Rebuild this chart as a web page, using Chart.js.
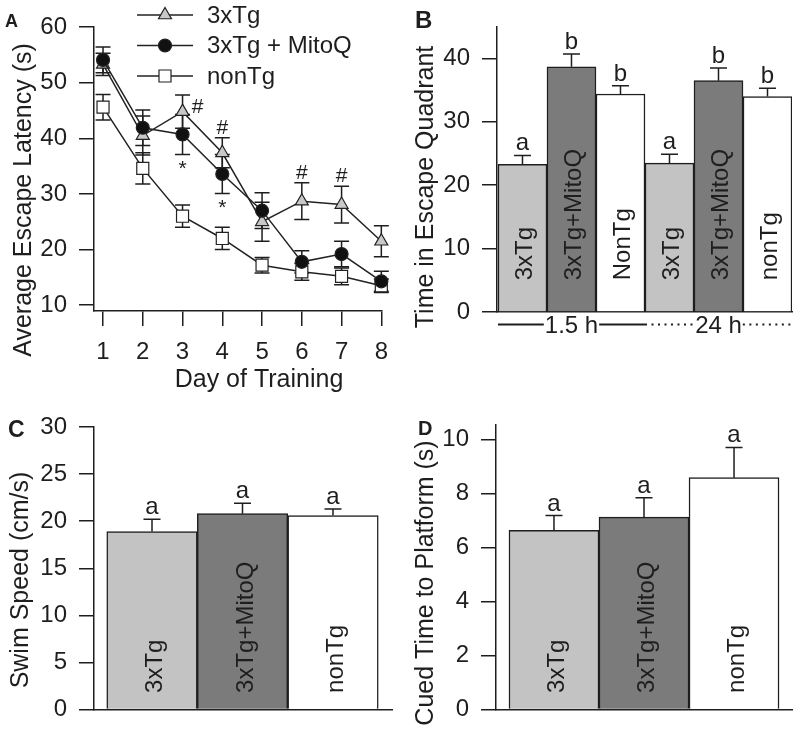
<!DOCTYPE html>
<html><head><meta charset="utf-8">
<script src="https://cdn.jsdelivr.net/npm/chart.js@4"></script>
<style>
body{margin:0;background:#fff;width:800px;height:736px;position:relative;overflow:hidden}
canvas{position:absolute}
</style></head><body>
<canvas id="cA" width="400" height="395" style="left:0;top:0"></canvas>
<canvas id="cB" width="400" height="395" style="left:400px;top:0"></canvas>
<canvas id="cC" width="400" height="341" style="left:0;top:395px"></canvas>
<canvas id="cD" width="400" height="341" style="left:400px;top:395px"></canvas>
<script>
// ---------------- data ----------------
const days = [1, 2, 3, 4, 5, 6, 7, 8];
const latency3xTg  = [53.3, 40.5, 44.8, 37.4, 25.0, 28.7, 28.1, 21.5];
const err3xTg      = [2.0, 3.5, 3.0, 2.7, 3.5, 3.3, 3.3, 2.8];
const latencyMitoQ = [54.1, 41.9, 40.7, 33.6, 27.0, 17.8, 19.2, 14.3];
const errMitoQ     = [2.3, 3.2, 3.6, 3.5, 3.2, 2.0, 2.3, 1.8];
const latencyNonTg = [45.6, 34.6, 26.0, 22.0, 17.2, 16.0, 15.2, 13.5];
const errNonTg     = [2.3, 2.8, 2.0, 2.0, 1.4, 1.5, 1.5, 1.2];
const hashDays = [3, 4, 6, 7];
const starDays = [3, 4];
const latencyTicks = [10, 20, 30, 40, 50, 60];

const probeLabels  = ['3xTg', '3xTg+MitoQ', 'NonTg', '3xTg', '3xTg+MitoQ', 'nonTg'];
const probeValues  = [23.3, 38.7, 34.4, 23.5, 36.5, 34.0];
const probeErrors  = [1.4, 2.0, 1.3, 1.4, 2.0, 1.3];
const probeLetters = ['a', 'b', 'b', 'a', 'b', 'b'];
const probeGroups  = ['1.5 h', '24 h'];
const probeTicks   = [0, 10, 20, 30, 40];

const groupLabels = ['3xTg', '3xTg+MitoQ', 'nonTg'];
const swimSpeed   = [18.9, 20.8, 20.6];
const swimErr     = [1.3, 1.1, 0.7];
const swimLetters = ['a', 'a', 'a'];
const swimTicks   = [0, 5, 10, 15, 20, 25, 30];

const cuedTime    = [6.63, 7.12, 8.58];
const cuedErr     = [0.55, 0.72, 1.12];
const cuedLetters = ['a', 'a', 'a'];
const cuedTicks   = [0, 2, 4, 6, 8, 10];

// ---------------- styles ----------------
const FONT = "'Liberation Sans', Arial, Helvetica, sans-serif";
const INK = '#1e1e1e';
const BAR_COLORS = ['#c3c3c3', '#7b7b7b', '#ffffff'];
Chart.defaults.font.family = FONT;
Chart.defaults.color = INK;

function yAxis(ticks, min, max, width) {
  return {
    type: 'linear', position: 'left', min: min, max: max,
    afterBuildTicks: s => { s.ticks = ticks.map(v => ({ value: v })); },
    afterFit: s => { s.width = width; },
    grid: { drawOnChartArea: false, drawTicks: true, tickLength: 15, color: INK, lineWidth: 1.5 },
    border: { display: true, color: INK, width: 1.5 },
    ticks: { font: { size: 24 }, color: INK, padding: 12, autoSkip: false }
  };
}
function xBarAxis(n, min, max, height) {
  return {
    type: 'linear', position: 'bottom', min: min, max: max, offset: false,
    afterBuildTicks: s => { s.ticks = Array.from({ length: n }, (_, i) => ({ value: i })); },
    afterFit: s => { s.height = height; },
    grid: { display: false, offset: false },
    border: { display: true, color: INK, width: 1.5 },
    ticks: { display: false }
  };
}

function textPlugin(items) {
  return {
    id: 'texts',
    afterDraw(chart) {
      const ctx = chart.ctx;
      items.forEach(t => {
        ctx.save();
        ctx.fillStyle = INK;
        ctx.font = (t.bold ? 'bold ' : '') + t.size + 'px ' + FONT;
        ctx.textAlign = t.align || 'center';
        ctx.textBaseline = 'alphabetic';
        ctx.translate(t.x, t.y);
        if (t.rot) ctx.rotate(t.rot);
        ctx.fillText(t.text, 0, 0);
        ctx.restore();
      });
    }
  };
}

function barPlugin(cfg) {
  return {
    id: 'barAnnot',
    afterDatasetsDraw(chart) {
      const ctx = chart.ctx, ys = chart.scales.y;
      const meta = chart.getDatasetMeta(0);
      ctx.save();
      meta.data.forEach((bar, i) => {
        const top = ys.getPixelForValue(cfg.values[i] + cfg.errors[i]);
        ctx.strokeStyle = INK; ctx.lineWidth = 1.5;
        ctx.beginPath();
        ctx.moveTo(bar.x, bar.y); ctx.lineTo(bar.x, top);
        ctx.moveTo(bar.x - cfg.cap, top); ctx.lineTo(bar.x + cfg.cap, top);
        ctx.stroke();
        ctx.fillStyle = INK;
        ctx.font = '24px ' + FONT;
        ctx.textAlign = 'center'; ctx.textBaseline = 'alphabetic';
        ctx.fillText(cfg.letters[i], bar.x, top - 5);
        ctx.save();
        ctx.translate(bar.x + 10, ys.bottom - cfg.labelInset);
        ctx.rotate(-Math.PI / 2);
        ctx.textAlign = 'left';
        ctx.fillText(cfg.labels[i], 0, 0);
        ctx.restore();
      });
      ctx.restore();
    }
  };
}

function groupPlugin(groups, styles) {
  return {
    id: 'groups',
    afterDraw(chart) {
      const ctx = chart.ctx;
      const meta = chart.getDatasetMeta(0);
      const per = meta.data.length / groups.length;
      const y = chart.chartArea.bottom + 12.5;
      ctx.save();
      ctx.font = '24px ' + FONT;
      ctx.fillStyle = INK; ctx.strokeStyle = INK; ctx.lineWidth = 2;
      groups.forEach((g, k) => {
        const b0 = meta.data[k * per], b1 = meta.data[k * per + per - 1];
        const left = b0.x - b0.width / 2, right = b1.x + b1.width / 2;
        const cx = (left + right) / 2;
        const w = ctx.measureText(g).width;
        ctx.setLineDash(styles[k] === 'dotted' ? [2, 4.5] : []);
        ctx.beginPath();
        ctx.moveTo(left, y); ctx.lineTo(cx - w / 2 - 1, y);
        ctx.moveTo(cx + w / 2 + 1, y); ctx.lineTo(right, y);
        ctx.stroke();
        ctx.textAlign = 'center'; ctx.textBaseline = 'middle';
        ctx.fillText(g, cx, y + 2);
      });
      ctx.restore();
    }
  };
}

function barChart(id, W, H, area, values, errors, letters, labels, ticks, yMax, xMin, xMax, extraPlugins, labelInset) {
  const n = values.length;
  return new Chart(document.getElementById(id), {
    type: 'bar',
    data: {
      datasets: [{
        data: values.map((v, i) => ({ x: i, y: v })),
        backgroundColor: values.map((v, i) => BAR_COLORS[i % 3]),
        borderColor: INK, borderWidth: 1.5, borderSkipped: 'bottom',
        barPercentage: 1, categoryPercentage: 1
      }]
    },
    options: {
      responsive: false, animation: false, devicePixelRatio: 1,
      layout: { padding: { left: 0, top: area.top, right: W - area.right, bottom: 0 } },
      plugins: { legend: { display: false }, tooltip: { enabled: false } },
      scales: {
        x: xBarAxis(n, xMin, xMax, H - area.bottom),
        y: yAxis(ticks, 0, yMax, area.left)
      }
    },
    plugins: [barPlugin({ values, errors, letters, labels, cap: 8.5, labelInset })].concat(extraPlugins)
  });
}

// ---------------- Panel A ----------------
const seriesA = [
  { label: '3xTg', values: latency3xTg, errors: err3xTg },
  { label: '3xTg + MitoQ', values: latencyMitoQ, errors: errMitoQ },
  { label: 'nonTg', values: latencyNonTg, errors: errNonTg }
];
const markerStyles = [
  { pointStyle: 'triangle', pointRadius: 7.5, pointBackgroundColor: '#c8c8c8', order: 1 },
  { pointStyle: 'circle', pointRadius: 6.5, pointBackgroundColor: '#111111', order: 0 },
  { pointStyle: 'rect', pointRadius: 8.5, pointBackgroundColor: '#ffffff', order: 2 }
];

const errPluginA = {
  id: 'errA',
  beforeDatasetsDraw(chart) {
    const ctx = chart.ctx, xs = chart.scales.x, ys = chart.scales.y;
    ctx.save();
    ctx.strokeStyle = INK; ctx.lineWidth = 1.5;
    seriesA.forEach(s => days.forEach((d, i) => {
      const x = xs.getPixelForValue(d);
      const y1 = ys.getPixelForValue(s.values[i] + s.errors[i]);
      const y2 = ys.getPixelForValue(s.values[i] - s.errors[i]);
      ctx.beginPath();
      ctx.moveTo(x, y1); ctx.lineTo(x, y2);
      ctx.moveTo(x - 7.5, y1); ctx.lineTo(x + 7.5, y1);
      ctx.moveTo(x - 7.5, y2); ctx.lineTo(x + 7.5, y2);
      ctx.stroke();
    }));
    ctx.restore();
  }
};
const hashRight = [3];
const sigPluginA = {
  id: 'sigA',
  afterDatasetsDraw(chart) {
    const ctx = chart.ctx, xs = chart.scales.x, ys = chart.scales.y;
    ctx.save();
    ctx.fillStyle = INK;
    ctx.font = '21px ' + FONT;
    ctx.textAlign = 'center'; ctx.textBaseline = 'alphabetic';
    hashDays.forEach(d => {
      const i = days.indexOf(d);
      const x = xs.getPixelForValue(d);
      if (hashRight.includes(d)) {
        ctx.fillText('#', x + 15, ys.getPixelForValue(latency3xTg[i]) + 1);
      } else {
        ctx.fillText('#', x, ys.getPixelForValue(latency3xTg[i] + err3xTg[i]) - 4);
      }
    });
    starDays.forEach(d => {
      const i = days.indexOf(d);
      ctx.fillText('*', xs.getPixelForValue(d), ys.getPixelForValue(latencyMitoQ[i] - errMitoQ[i]) + 21);
    });
    ctx.restore();
  }
};
const legendPluginA = {
  id: 'legA',
  afterDraw(chart) {
    const ctx = chart.ctx;
    const rows = [15, 45.5, 76];
    ctx.save();
    chart.data.datasets.forEach((ds, k) => {
      const y = rows[k];
      ctx.strokeStyle = '#222'; ctx.lineWidth = 1.5;
      ctx.beginPath(); ctx.moveTo(137, y); ctx.lineTo(193, y); ctx.stroke();
      ctx.fillStyle = ds.pointBackgroundColor; ctx.strokeStyle = '#222'; ctx.lineWidth = 1.2;
      Chart.helpers.drawPoint(ctx, { pointStyle: ds.pointStyle, radius: ds.pointRadius, borderWidth: 1.2, rotation: 0 }, 165, y);
      ctx.fillStyle = INK; ctx.font = '24px ' + FONT;
      ctx.textAlign = 'left'; ctx.textBaseline = 'middle';
      ctx.fillText(ds.label, 207, y + 1);
    });
    ctx.restore();
  }
};

new Chart(document.getElementById('cA'), {
  type: 'line',
  data: {
    datasets: seriesA.map((s, k) => Object.assign({
      label: s.label,
      data: days.map((d, i) => ({ x: d, y: s.values[i] })),
      borderColor: '#222', borderWidth: 1.5,
      pointBorderColor: '#222', pointBorderWidth: 1.2,
      tension: 0, fill: false, clip: false
    }, markerStyles[k], { pointHoverRadius: markerStyles[k].pointRadius }))
  },
  options: {
    responsive: false, animation: false, devicePixelRatio: 1,
    layout: { padding: { left: 0, top: 15, right: 9, bottom: 0 } },
    plugins: { legend: { display: false }, tooltip: { enabled: false } },
    scales: {
      x: {
        type: 'linear', position: 'bottom', min: 0.773, max: 8,
        afterBuildTicks: s => { s.ticks = days.map(v => ({ value: v })); },
        afterFit: s => { s.height = 395 - 311; },
        grid: { drawOnChartArea: false, drawTicks: true, tickLength: 15, color: INK, lineWidth: 1.5 },
        border: { display: true, color: INK, width: 1.5 },
        ticks: { font: { size: 24 }, color: INK, padding: 12, autoSkip: false, maxRotation: 0 }
      },
      y: yAxis(latencyTicks, 8.963, 60.12, 94)
    }
  },
  plugins: [errPluginA, sigPluginA, legendPluginA, textPlugin([
    { text: 'A', x: 5, y: 27, size: 18, bold: true, align: 'left' },
    { text: 'Average Escape Latency (s)', x: 31, y: 200, size: 25, rot: -Math.PI / 2 },
    { text: 'Day of Training', x: 259, y: 387, size: 25 }
  ])]
});

// ---------------- Panel B ----------------
barChart('cB', 400, 395, { left: 97, right: 392, top: 15, bottom: 312 },
  probeValues, probeErrors, probeLetters, probeLabels, probeTicks, 45.06, -0.52, 5.5,
  [groupPlugin(probeGroups, ['solid', 'dotted']), textPlugin([
    { text: 'B', x: 15, y: 28, size: 24, bold: true, align: 'left' },
    { text: 'Time in Escape Quadrant', x: 33, y: 187, size: 25, rot: -Math.PI / 2 }
  ])], 31.7);

// ---------------- Panel C ----------------
barChart('cC', 400, 341, { left: 94, right: 392, top: 32, bottom: 327 },
  swimSpeed, swimErr, swimLetters, groupLabels, swimTicks, 30, -0.641, 2.652,
  [textPlugin([
    { text: 'C', x: 8, y: 42, size: 23, bold: true, align: 'left' },
    { text: 'Swim Speed (cm/s)', x: 28, y: 185, size: 25, rot: -Math.PI / 2 }
  ])], 16.7);

// ---------------- Panel D ----------------
barChart('cD', 400, 341, { left: 96, right: 392, top: 30, bottom: 327 },
  cuedTime, cuedErr, cuedLetters, groupLabels, cuedTicks, 10.53, -0.644, 2.644,
  [textPlugin([
    { text: 'D', x: 18, y: 40, size: 20, bold: true, align: 'left' },
    { text: 'Cued Time to Platform (s)', x: 33, y: 188, size: 25, rot: -Math.PI / 2 }
  ])], 16.7);
</script>
</body></html>
